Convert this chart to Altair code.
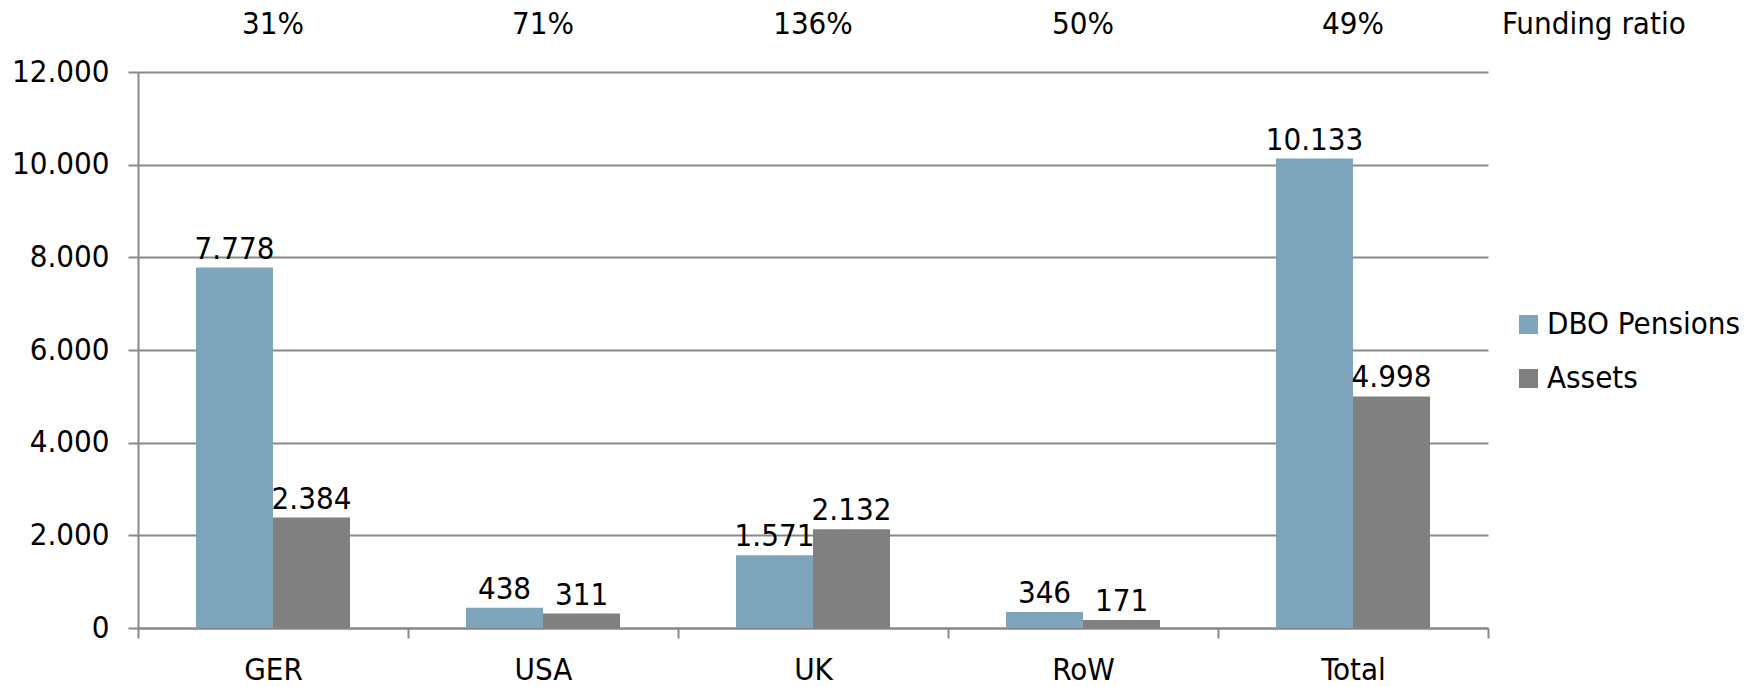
import altair as alt
import pandas as pd

categories = ["GER", "USA", "UK", "RoW", "Total"]
dbo_values = [7778, 438, 1571, 346, 10133]
asset_values = [2384, 311, 2132, 171, 4998]
funding_ratios = ["31%", "71%", "136%", "50%", "49%"]
series = ["DBO Pensions", "Assets"]
colors = ["#7fa5bd", "#808080"]
y_ticks = [0, 2000, 4000, 6000, 8000, 10000, 12000]

rows = []
for c, d, a in zip(categories, dbo_values, asset_values):
    rows.append({"cat": c, "series": series[0], "value": d})
    rows.append({"cat": c, "series": series[1], "value": a})
df = pd.DataFrame(rows)
df["label"] = df["value"].map(lambda v: f"{v:,}".replace(",", "."))

ratio_df = pd.DataFrame({"cat": categories, "ratio": funding_ratios})
title_df = pd.DataFrame({"t": ["Funding ratio"]})

FONT = "DejaVu Sans Condensed, DejaVu Sans, sans-serif"
FS = 31
GRAY = "#888888"

x = alt.X(
    "cat:N",
    sort=categories,
    scale=alt.Scale(paddingInner=0, paddingOuter=0),
    axis=alt.Axis(
        title=None, tickBand="extent", grid=False, labelAngle=0,
        labelFontSize=FS, labelFont=FONT, labelColor="black",
        domainColor=GRAY, domainWidth=2, tickColor=GRAY, tickWidth=2,
        tickSize=10, labelPadding=17,
    ),
)
xoff = alt.XOffset("series:N", sort=series,
                   scale=alt.Scale(paddingInner=0, paddingOuter=0.753))
y = alt.Y(
    "value:Q",
    scale=alt.Scale(domain=[0, 12000], nice=False),
    axis=alt.Axis(
        title=None, values=y_ticks,
        labelExpr="replace(format(datum.value, ',d'), ',', '.')",
        grid=True, gridColor=GRAY, gridWidth=2,
        domainColor=GRAY, domainWidth=2, tickColor=GRAY, tickWidth=2,
        tickSize=10, labelFontSize=FS, labelFont=FONT, labelColor="black",
        labelPadding=19,
    ),
)
color = alt.Color(
    "series:N", sort=series,
    scale=alt.Scale(domain=series, range=colors),
    legend=alt.Legend(
        title=None, orient="none", legendX=1375, legendY=237,
        symbolType="square", symbolSize=361, symbolStrokeWidth=0,
        labelFontSize=FS, labelFont=FONT, labelColor="black",
        labelLimit=0, rowPadding=22, labelOffset=3,
    ),
)

bars = alt.Chart(df).mark_bar().encode(x=x, xOffset=xoff, y=y, color=color)
bar_labels = alt.Chart(df).mark_text(
    baseline="alphabetic", dy=-9, fontSize=FS, font=FONT, color="black"
).encode(x=x, xOffset=xoff, y=y, text="label:N")
ratio_text = alt.Chart(ratio_df).mark_text(
    baseline="alphabetic", fontSize=FS, font=FONT, color="black"
).encode(x=alt.X("cat:N", sort=categories), y=alt.value(-38), text="ratio:N")
ratio_title = alt.Chart(title_df).mark_text(
    baseline="alphabetic", align="left", fontSize=FS, font=FONT, color="black"
).encode(x=alt.value(1364), y=alt.value(-38), text="t:N")

chart = alt.layer(bars, bar_labels, ratio_text, ratio_title).properties(
    width=1350, height=556,
    autosize=alt.AutoSizeParams(type="none"),
    padding={"left": 130, "top": 64, "right": 262, "bottom": 58},
).configure_view(stroke=None)

chart.save("out.html", embed_options={"renderer": "svg", "actions": False})
